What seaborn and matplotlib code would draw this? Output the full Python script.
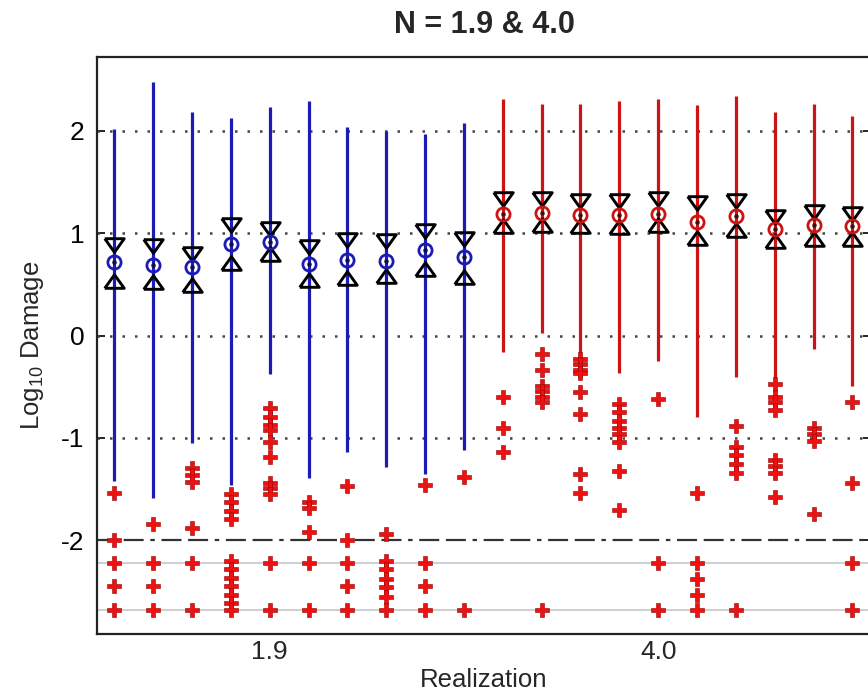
import numpy as np
import pandas as pd
import matplotlib
matplotlib.use("Agg")
import matplotlib.pyplot as plt
import seaborn as sns

# ---------------- data ----------------
groups = ["1.9"] * 10 + ["4.0"] * 10
whisk_hi = [2.02, 2.48, 2.18, 2.12, 2.23, 2.29, 2.04, 2.00, 1.97, 2.08,
            2.31, 2.26, 2.26, 2.29, 2.31, 2.25, 2.34, 2.18, 2.26, 2.14]
whisk_lo = [-1.42, -1.59, -1.05, -1.46, -0.38, -1.39, -1.14, -1.28, -1.35, -1.12,
            -0.16, 0.02, -0.22, -0.37, -0.25, -0.80, -0.41, -0.43, -0.13, -0.49]
medians = [0.72, 0.69, 0.67, 0.89, 0.91, 0.70, 0.74, 0.73, 0.84, 0.77,
           1.19, 1.20, 1.18, 1.18, 1.19, 1.11, 1.17, 1.04, 1.08, 1.07]
notch_hi = [0.88, 0.87, 0.80, 1.08, 1.04, 0.86, 0.93, 0.92, 1.02, 0.94,
            1.33, 1.33, 1.31, 1.31, 1.33, 1.29, 1.31, 1.16, 1.21, 1.19]
notch_lo = [0.53, 0.52, 0.49, 0.71, 0.80, 0.54, 0.56, 0.58, 0.65, 0.57,
            1.07, 1.08, 1.07, 1.06, 1.08, 0.95, 1.03, 0.92, 0.94, 0.94]
outliers = [
    [-1.54, -2.00, -2.22, -2.45, -2.68],
    [-1.84, -2.22, -2.45, -2.68],
    [-1.29, -1.36, -1.43, -1.88, -2.22, -2.68],
    [-1.55, -1.63, -1.71, -1.79, -2.20, -2.28, -2.37, -2.45, -2.53, -2.61, -2.68],
    [-0.71, -0.80, -0.87, -0.92, -1.04, -1.19, -1.44, -1.49, -1.55, -2.22, -2.68],
    [-1.63, -1.68, -1.92, -2.22, -2.68],
    [-1.47, -2.00, -2.22, -2.45, -2.68],
    [-1.94, -2.20, -2.28, -2.38, -2.46, -2.55, -2.68],
    [-1.46, -2.22, -2.45, -2.68],
    [-1.38, -2.68],
    [-0.60, -0.90, -1.14],
    [-0.18, -0.34, -0.49, -0.54, -0.60, -0.65, -2.68],
    [-0.23, -0.28, -0.34, -0.37, -0.55, -0.77, -1.35, -1.54],
    [-0.67, -0.75, -0.83, -0.90, -0.96, -1.04, -1.32, -1.70],
    [-0.62, -2.22, -2.68],
    [-1.54, -2.22, -2.38, -2.53, -2.68],
    [-0.88, -1.09, -1.17, -1.25, -1.34, -2.68],
    [-0.47, -0.60, -0.65, -0.73, -1.22, -1.27, -1.34, -1.58],
    [-0.90, -0.96, -1.03, -1.74],
    [-0.65, -1.44, -2.22, -2.68],
]
xtick_pos = [5, 15]
xtick_labels = ["1.9", "4.0"]
grid_levels = [-1, 0, 1, 2]
threshold_level = -2
ref_levels = [-2.22, -2.68]

# ---------------- build tables ----------------
positions = np.arange(1, len(medians) + 1)
box_df = pd.DataFrame({
    "pos": positions, "N": groups, "lo": whisk_lo, "hi": whisk_hi,
    "med": medians, "nlo": notch_lo, "nhi": notch_hi,
})
out_df = pd.DataFrame(
    [(p, g, v) for p, g, vals in zip(positions, groups, outliers) for v in vals],
    columns=["pos", "N", "value"],
)
palette = {"1.9": "#1c1cb4", "4.0": "#cc1414"}

# ---------------- figure ----------------
sns.set_theme(style="white")
plt.rcParams["font.family"] = ["Liberation Sans", "DejaVu Sans"]
plt.rcParams["mathtext.fontset"] = "custom"
plt.rcParams["mathtext.rm"] = "Liberation Sans"
plt.rcParams["mathtext.it"] = "Liberation Sans:italic"

fig = plt.figure(figsize=(8.68, 6.98), dpi=100)
ax = fig.add_axes([97 / 868, 1 - 634 / 698, (871 - 97) / 868, (634 - 57) / 698])

# reference / grid lines
for lv in grid_levels:
    ax.axhline(lv, color="#444444", lw=1.8, ls=(0, (1, 4)), zorder=1)
ax.axhline(threshold_level, color="#333333", lw=1.6,
           ls=(0, (9, 3, 9, 3, 2, 3)), zorder=1)
for lv in ref_levels:
    ax.axhline(lv, color="#cccccc", lw=1.3, zorder=1)

# whiskers
for g, sub in box_df.groupby("N"):
    ax.vlines(sub["pos"], sub["lo"], sub["hi"], color=palette[g], lw=2.3, zorder=2)

# outliers
sns.scatterplot(data=out_df, x="pos", y="value", marker="P", s=115,
                color="#f01010", edgecolor="#900000", linewidth=0.4,
                ax=ax, legend=False, zorder=3)

# notch triangles
tri_down = [(-1, 0.7), (1, 0.7), (0, -0.7), (-1, 0.7)]
tri_up = [(-1, -0.7), (1, -0.7), (0, 0.7), (-1, -0.7)]
ax.plot(box_df["pos"], box_df["nhi"], ls="none", marker=tri_down, ms=14,
        mfc="none", mec="black", mew=2.1, zorder=4)
ax.plot(box_df["pos"], box_df["nlo"], ls="none", marker=tri_up, ms=14,
        mfc="none", mec="black", mew=2.1, zorder=4)

# medians
for g, sub in box_df.groupby("N"):
    ax.plot(sub["pos"], sub["med"], ls="none", marker="o", ms=9.5,
            mfc="none", mec=palette[g], mew=2.0, zorder=5)
    ax.plot(sub["pos"], sub["med"], ls="none", marker="o", ms=3.2,
            mfc="#101040" if g == "1.9" else "#401010", mec="none", zorder=5)

# axes styling
ax.set_xlim(0.555, 20.48)
ax.set_ylim(-2.915, 2.72)
ax.set_yticks([-2, -1, 0, 1, 2])
ax.set_yticklabels(["-2", "-1", "0", "1", "2"])
ax.set_xticks(xtick_pos)
ax.set_xticklabels(xtick_labels)
ax.tick_params(axis="y", direction="in", length=6, width=1.2, labelsize=19,
               right=True, left=True, pad=9, colors="black")
ax.tick_params(axis="x", length=0, labelsize=19, pad=4)
for s in ax.spines.values():
    s.set_color("#222222")
    s.set_linewidth(1.6)
    s.set_visible(True)
ax.set_xlabel("Realization", fontsize=18.5, labelpad=3)
ax.set_ylabel("Log$_{10}$ Damage", fontsize=18.5, labelpad=11)
ax.set_title("N = 1.9 & 4.0", fontsize=22, fontweight="bold", pad=17)
ax.grid(False)

fig.savefig("out.png", dpi=100)
